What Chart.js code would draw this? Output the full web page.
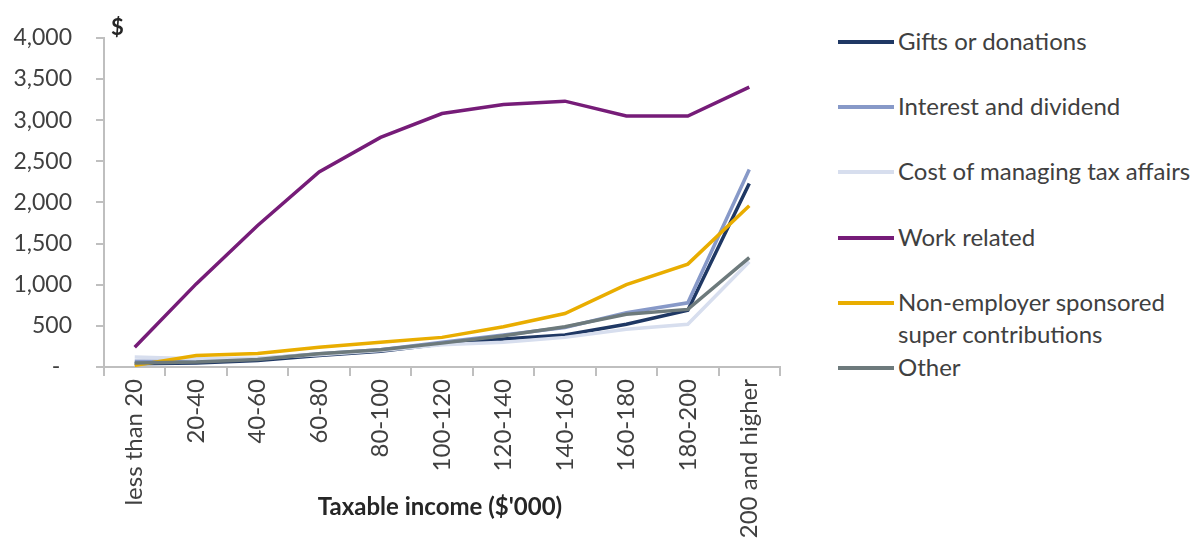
<!DOCTYPE html>
<html>
<head>
<meta charset="utf-8">
<script src="https://cdn.jsdelivr.net/npm/chart.js@4/dist/chart.umd.min.js"></script>
<style>
  html, body { margin: 0; padding: 0; background: #fff; }
  body { width: 1202px; height: 546px; position: relative; overflow: hidden; font-family: Lato, 'Open Sans', sans-serif; color: #404040; }
  #wrap { position: absolute; left: 0; top: 0; width: 800px; height: 546px; }
  .unit { position: absolute; left: 111px; top: 13px; font-weight: 700; font-size: 22px; color: #262626; }
  .xtitle { position: absolute; left: 440px; top: 491px; transform: translateX(-50%); font-weight: 700; font-size: 24px; color: #262626; white-space: nowrap; }
  .leg-line { position: absolute; left: 838px; width: 56px; height: 4px; }
  .leg-text { position: absolute; left: 898px; font-size: 24px; line-height: 32px; color: #404040; white-space: nowrap; }
</style>
</head>
<body>
<div id="wrap"><canvas id="chart" width="800" height="546"></canvas></div>
<div class="unit">$</div>
<div class="xtitle">Taxable income ($'000)</div>
<div id="legend"></div>
<script>
'use strict';

// income brackets ($'000)
const categories = ['less than 20', '20-40', '40-60', '60-80', '80-100', '100-120', '120-140', '140-160', '160-180', '180-200', '200 and higher'];

// average deduction claimed per bracket ($)
const gifts       = [40, 50, 80, 140, 190, 280, 340, 390, 520, 690, 2230];
const interest    = [70, 70, 100, 160, 210, 300, 390, 480, 660, 780, 2400];
const taxAffairs  = [120, 100, 110, 150, 200, 270, 300, 360, 460, 520, 1280];
const workRelated = [240, 1010, 1720, 2370, 2790, 3080, 3190, 3230, 3050, 3050, 3400];
const superContrib = [20, 140, 165, 240, 300, 360, 490, 650, 1000, 1250, 1960];
const other       = [50, 60, 90, 160, 210, 290, 380, 490, 640, 700, 1330];

const yTicks = [0, 500, 1000, 1500, 2000, 2500, 3000, 3500, 4000];

const series = [
  { label: ['Gifts or donations'], data: gifts, color: '#1f3864' },
  { label: ['Interest and dividend'], data: interest, color: '#8799c8' },
  { label: ['Cost of managing tax affairs'], data: taxAffairs, color: '#d7deee' },
  { label: ['Work related'], data: workRelated, color: '#761c78' },
  { label: ['Non-employer sponsored', 'super contributions'], data: superContrib, color: '#e9ad00' },
  { label: ['Other'], data: other, color: '#6d7a7c' },
];

// legend rows: vertical centre of each entry's first line
const legendRows = [42, 107, 172, 238, 303, 368];

(function () {
  const legend = document.getElementById('legend');
  series.forEach((s, i) => {
    const line = document.createElement('div');
    line.className = 'leg-line';
    line.style.top = (legendRows[i] - 2) + 'px';
    line.style.background = s.color;
    legend.appendChild(line);
    const txt = document.createElement('div');
    txt.className = 'leg-text';
    txt.style.top = (legendRows[i] - 17) + 'px';
    txt.innerHTML = s.label.join('<br>');
    legend.appendChild(txt);
  });

  const axisGrey = '#bfbfbf';
  new Chart(document.getElementById('chart'), {
    type: 'line',
    data: {
      labels: categories,
      datasets: series.map((s, i) => ({
        label: s.label.join(' '),
        data: s.data,
        borderColor: s.color,
        backgroundColor: s.color,
        borderWidth: 3.5,
        pointRadius: 0,
        tension: 0,
        order: -i,
      })),
    },
    options: {
      responsive: false,
      animation: false,
      devicePixelRatio: 1,
      layout: { padding: { top: 30, right: 20, left: 0, bottom: 0 } },
      plugins: { legend: { display: false }, tooltip: { enabled: false } },
      scales: {
        x: {
          type: 'category',
          offset: true,
          grid: { offset: true, drawOnChartArea: false, drawTicks: true, tickLength: 9, color: axisGrey, lineWidth: 2 },
          border: { color: axisGrey, width: 2 },
          ticks: { minRotation: 90, maxRotation: 90, autoSkip: false, padding: 3, color: '#404040', font: { family: 'Lato', size: 24 } },
          afterFit: s => { s.height = 179; },
        },
        y: {
          min: 0, max: 4000,
          afterBuildTicks: s => { s.ticks = yTicks.map(v => ({ value: v })); },
          grid: { drawOnChartArea: false, drawTicks: true, tickLength: 8, color: axisGrey, lineWidth: 2 },
          border: { color: axisGrey, width: 2 },
          ticks: {
            padding: 24, color: '#404040', font: { family: 'Lato', size: 23 },
            callback: v => v === 0 ? '-  ' : v.toLocaleString('en-US'),
          },
          afterFit: s => { s.width = 104; },
        },
      },
    },
  });
})();
</script>
</body>
</html>
